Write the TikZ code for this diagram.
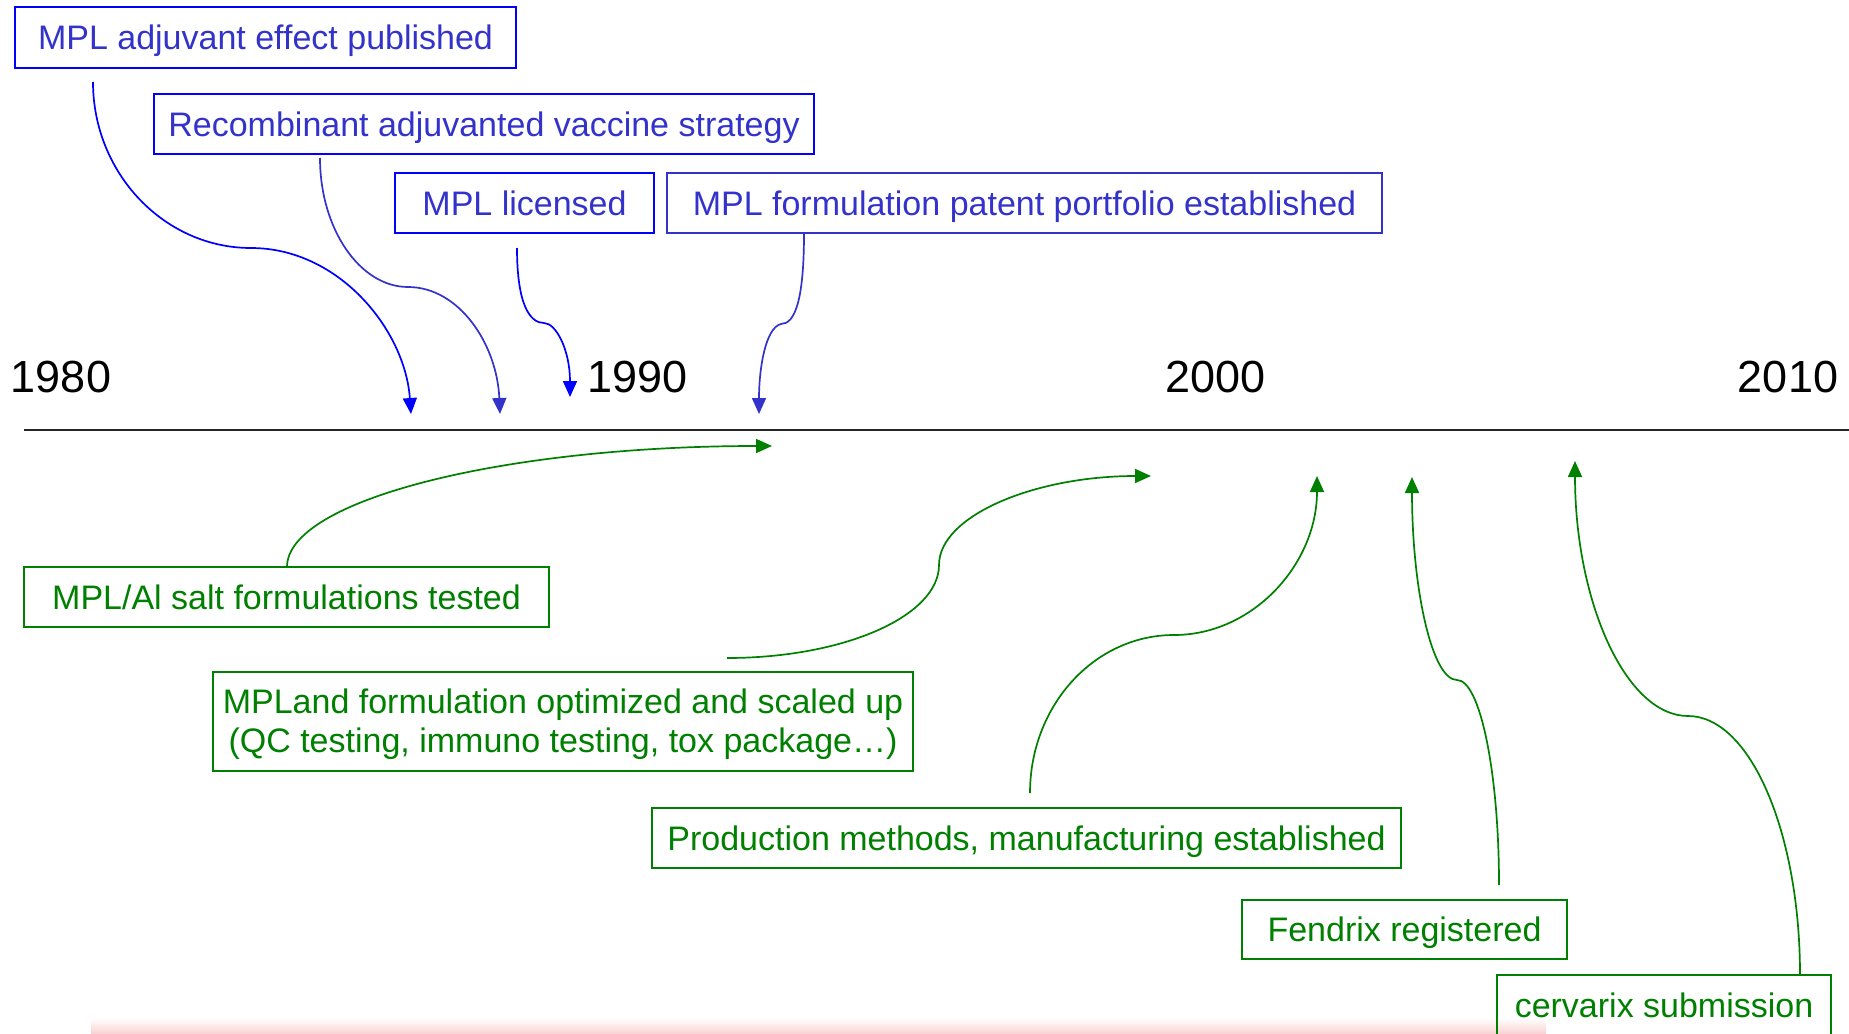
\documentclass[tikz,border=0pt]{standalone}
\usepackage{fontspec}
\setmainfont{Liberation Sans}
\usetikzlibrary{arrows.meta}
\definecolor{bl}{RGB}{0,0,255}
\definecolor{bltext}{RGB}{51,51,204}
\definecolor{gr}{RGB}{0,128,0}
\definecolor{pinkish}{RGB}{250,212,212}
\tikzset{
  box/.style={draw, line width=2pt, inner sep=0pt, text height=24.3pt, text depth=0pt,
    font=\fontsize{34}{40}\selectfont},
  bluebox/.style={box, draw=bl, text=bltext},
  purplebox/.style={box, draw=bltext, text=bltext},
  greenbox/.style={box, draw=gr, text=gr},
  greentext/.style={anchor=base, inner sep=0pt, text=gr, font=\fontsize{34}{40}\selectfont},
  yearlabel/.style={anchor=base, inner sep=0pt, text=black, font=\fontsize{45}{54}\selectfont},
  conn/.style={line width=1.7pt, -{Triangle[length=16pt,width=14pt]}},
}
\begin{document}
\begin{tikzpicture}[x=1pt,y=-1pt]
\useasboundingbox (0,0) rectangle (1849,1033);
\clip (0,0) rectangle (1849,1033);
\fill[white] (0,0) rectangle (1849,1033);
\shade[top color=white, bottom color=pinkish] (91,1018) rectangle (1546,1033);

% timeline
\coordinate (axL) at (24,430);
\coordinate (axR) at (1849,430);
\draw[line width=2.2pt, color=black!85] (axL) -- (axR);
\node[yearlabel] (y1980) at (61,392) {1980};
\node[yearlabel] (y1990) at (637.5,392) {1990};
\node[yearlabel] (y2000) at (1215.5,392) {2000};
\node[yearlabel] (y2010) at (1788,392) {2010};

% upper (blue) boxes
\node[bluebox, minimum width=501pt, minimum height=61pt] (b1) at (265.5,37.5) {MPL adjuvant effect published};
\node[bluebox, minimum width=660pt, minimum height=60pt] (b2) at (484,124) {Recombinant adjuvanted vaccine strategy};
\node[bluebox, minimum width=259pt, minimum height=60pt] (b3) at (524.5,203) {MPL licensed};
\node[purplebox, minimum width=715pt, minimum height=60pt] (b4) at (1024.5,203) {MPL formulation patent portfolio established};

% lower (green) boxes
\node[greenbox, minimum width=525pt, minimum height=60pt] (b5) at (286.5,597) {MPL/Al salt formulations tested};
\node[greenbox, minimum width=700pt, minimum height=99pt] (b6) at (563,721.5) {};
\node[greentext] (b6a) at (563,713) {MPLand formulation optimized and scaled up};
\node[greentext] (b6b) at (563,752) {(QC testing, immuno testing, tox package…)};
\node[greenbox, minimum width=749pt, minimum height=60pt] (b7) at (1026.5,838) {Production methods, manufacturing established};
\node[greenbox, minimum width=325pt, minimum height=59pt] (b8) at (1404.5,929.5) {Fendrix registered};
\node[greenbox, minimum width=334pt, minimum height=60pt] (b9) at (1664,1005) {cervarix submission};

% blue connectors
\coordinate (s1) at (93,82);   \coordinate (m1) at (251,248);  \coordinate (e1) at (411,414);
\coordinate (s2) at (320,158); \coordinate (m2) at (408,287);  \coordinate (e2) at (500,414);
\coordinate (s3) at (517,248); \coordinate (m3) at (544,323);  \coordinate (e3) at (570,397);
\coordinate (s4) at (804,233); \coordinate (m4) at (781,324);  \coordinate (e4) at (759,414);
\draw[conn, color=bl] (s1) .. controls (93,173) and (164,248) .. (m1) .. controls (339,248) and (405,330) .. (e1);
\draw[conn, color=bltext] (s2) .. controls (320,229) and (360,287) .. (m2) .. controls (459,287) and (497,344) .. (e2);
\draw[conn, color=bl] (s3) .. controls (517,305) and (530,323) .. (m3) .. controls (556,323) and (570,350) .. (e3);
\draw[conn, color=bltext] (s4) .. controls (804,300) and (795,324) .. (m4) .. controls (765,328) and (759,370) .. (e4);

% green connectors
\coordinate (sA) at (287,567);  \coordinate (eA) at (772,446);
\coordinate (sB) at (727,658);  \coordinate (mB) at (939,565);  \coordinate (eB) at (1151,476);
\coordinate (sC) at (1030,793); \coordinate (mC) at (1174,635); \coordinate (eC) at (1317,476);
\coordinate (sD) at (1499,885); \coordinate (mD) at (1457,680); \coordinate (eD) at (1412,477);
\coordinate (sE) at (1800,975); \coordinate (mE) at (1688,716); \coordinate (eE) at (1575,461);
\draw[conn, color=gr] (sA) .. controls (287,500) and (504,446) .. (eA);
\draw[conn, color=gr] (sB) .. controls (844,658) and (939,616) .. (mB) .. controls (939,516) and (1034,476) .. (eB);
\draw[conn, color=gr] (sC) .. controls (1030,706) and (1094,635) .. (mC) .. controls (1253,635) and (1317,564) .. (eC);
\draw[conn, color=gr] (sD) .. controls (1499,772) and (1480,680) .. (mD) .. controls (1432,680) and (1412,589) .. (eD);
\draw[conn, color=gr] (sE) .. controls (1800,832) and (1750,716) .. (mE) .. controls (1626,716) and (1575,602) .. (eE);
\end{tikzpicture}
\end{document}
